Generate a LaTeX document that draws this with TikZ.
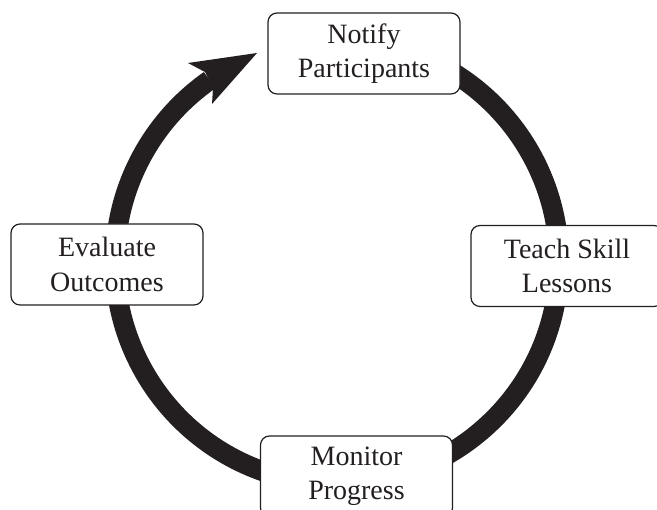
\documentclass[tikz,border=0pt]{standalone}
\usepackage{fontspec}
\setmainfont{Liberation Serif}
\definecolor{ink}{HTML}{231F20}
\begin{document}
\begin{tikzpicture}[x=1pt,y=1pt,
  stagebox/.style={draw=ink, line width=1.2pt, rounded corners=9pt, fill=white,
    minimum width=192pt, minimum height=81pt, align=center, text=ink,
    font=\fontsize{28}{34.5}\selectfont, inner sep=0pt},
  ring/.style={draw=ink, line width=20pt}]
\useasboundingbox (0,0) rectangle (657,510);
\coordinate (c) at (337,248);
% cycle ring
\draw[ring] ([shift={(80:222)}]c) arc[start angle=80, end angle=-235, radius=222];
% arrow head
\coordinate (tip) at (257,457);
\coordinate (ob) at (188,447);
\coordinate (on) at (205,438);
\coordinate (in) at (213,422);
\coordinate (ib) at (212,406);
\fill[ink] (tip) -- (ob) -- (on) -- (in) -- (ib) -- cycle;
% stages
\node[stagebox] (notify) at (364,456.5) {Notify\\Participants};
\node[stagebox] (teach) at (567,244) {Teach Skill\\Lessons};
\node[stagebox] (monitor) at (356.5,33.5) {Monitor\\Progress};
\node[stagebox] (evaluate) at (107,245.5) {Evaluate\\Outcomes};
\end{tikzpicture}
\end{document}
